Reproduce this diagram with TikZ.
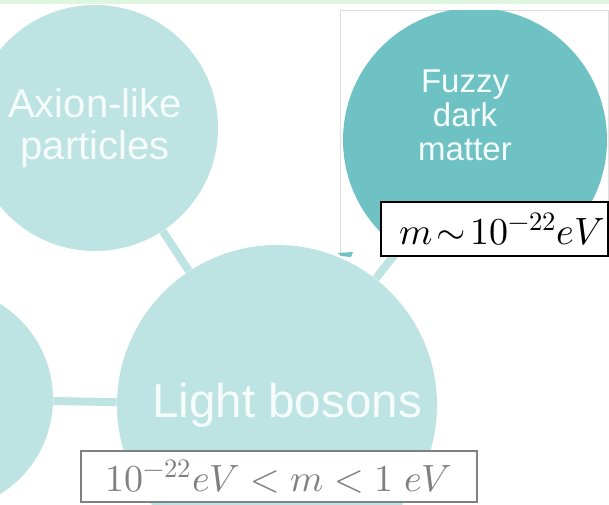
\documentclass[tikz,border=0pt]{standalone}
\usepackage{fontspec}
\usepackage{unicode-math}
\setmainfont{Liberation Sans}
\usepackage{tikz}
\usetikzlibrary{shapes.geometric}
\definecolor{paleteal}{RGB}{189,227,227}
\definecolor{fuzzyteal}{RGB}{110,194,195}
\definecolor{softwhite}{RGB}{246,252,252}
\definecolor{topgreen}{RGB}{222,245,224}
\definecolor{framegray}{RGB}{222,222,222}
\definecolor{rangegray}{RGB}{128,128,128}
\tikzstyle{bubble} = [circle, inner sep=0pt, fill=paleteal, text=softwhite, align=center]
\tikzstyle{darkbubble} = [bubble, fill=fuzzyteal]
\tikzstyle{link} = [line width=4pt, draw=paleteal]
\tikzstyle{massbox} = [draw, rectangle, fill=white, line width=1pt, inner sep=0pt, font=\fontsize{19}{19}\selectfont]

\begin{document}
\begin{tikzpicture}[x=0.5pt, y=-0.5pt]
    \useasboundingbox (0,0) rectangle (609,504);
    \fill [topgreen] (0,0) rectangle (609,4);
    % frame of the pasted picture
    \draw [framegray, line width=0.5pt, fill=white] (340,254) -- (340,10) -- (608,10) -- (608,254);
    \node (axion) [bubble, minimum size=123pt, font=\fontsize{20}{21}\selectfont] at (95,128) {Axion-like\\particles};
    \node (other) [bubble, minimum size=112pt] at (-59,399) {};
    \node (lightb) [bubble, minimum size=160pt, font=\fontsize{23.8}{25}\selectfont] at (277,405) {\hspace{10pt}Light bosons};
    \begin{scope}
        \clip (340,10) rectangle (608,254);
        \node (fuzzy) [darkbubble, minimum size=132pt] at (475,140) {};
    \end{scope}
    \node (fuzzytxt) [text=softwhite, align=center, font=\fontsize{16.5}{17}\selectfont] at (465,115) {Fuzzy\\dark\\matter};
    \coordinate (fzend) at (402,245);
    \draw [link] (axion) -- (lightb);
    \draw [link] (other) -- (lightb);
    \draw [link] (lightb) -- (fzend);
    \fill [fuzzyteal] (338,253) -- (353,252) -- (351,257) -- (341,256) -- cycle;
    \node (fdmmass) [massbox, minimum width=113.5pt, minimum height=27pt] at (494.5,229) {\hspace{7.5pt}$m\mkern2mu{\sim}\mkern2mu10^{-22}eV$};
    \node (bosonmass) [massbox, draw=rangegray, text=rangegray, minimum width=198pt, minimum height=25.5pt] at (279,476.5) {$10^{-22}eV<m<1\;eV$};
\end{tikzpicture}
\end{document}
